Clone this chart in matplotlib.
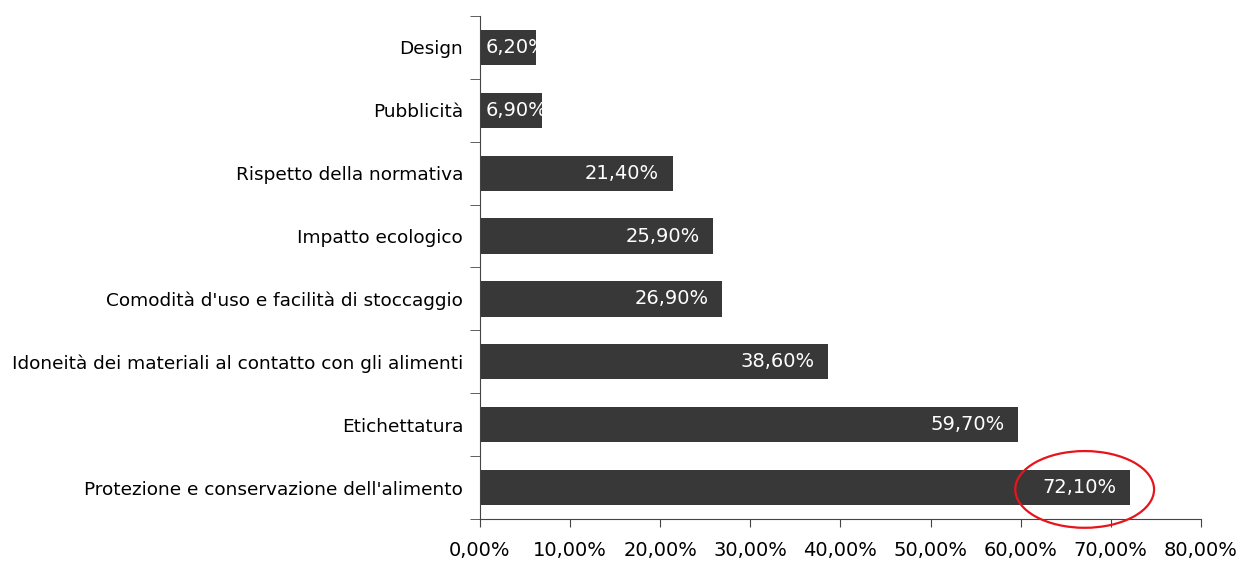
import numpy as np
import matplotlib.pyplot as plt
from matplotlib.patches import Ellipse

plt.rcParams['font.family'] = ['DejaVu Sans']

# top to bottom
categories = ["Design", "Pubblicità", "Rispetto della normativa", "Impatto ecologico",
              "Comodità d'uso e facilità di stoccaggio",
              "Idoneità dei materiali al contatto con gli alimenti",
              "Etichettatura", "Protezione e conservazione dell'alimento"]
values = [6.2, 6.9, 21.4, 25.9, 26.9, 38.6, 59.7, 72.1]
xticks = [0, 10, 20, 30, 40, 50, 60, 70, 80]

fig = plt.figure(figsize=(12.4, 5.61), dpi=100)
ax = fig.add_axes([0.387, 0.0749, 0.5815, 0.8966])

ypos = np.arange(len(categories))[::-1]
ax.barh(ypos, values, height=0.56, color='#383838', zorder=2)

for y, v in zip(ypos, values):
    txt = f"{v:.2f}%".replace('.', ',')
    if v < 10:
        ax.text(0.6, y, txt, color='white', ha='left', va='center', fontsize=14, zorder=3, clip_on=True)
    else:
        ax.text(v - 1.5, y, txt, color='white', ha='right', va='center', fontsize=14, zorder=3)

ax.set_xlim(0, 80)
ax.set_ylim(-0.5, len(categories) - 0.5)
ax.set_xticks(xticks)
ax.set_xticklabels([f"{t:.2f}%".replace('.', ',') for t in xticks], fontsize=14)
ax.set_yticks(ypos)
ax.set_yticklabels(categories, fontsize=13.3)
ax.tick_params(axis='y', which='major', length=0, pad=12)
ax.set_yticks(np.arange(-0.5, len(categories)), minor=True)
ax.tick_params(axis='y', which='minor', length=7, color='#444444')
ax.tick_params(axis='x', length=6, color='#444444', pad=10)

for s in ['top', 'right']:
    ax.spines[s].set_visible(False)
for s in ['left', 'bottom']:
    ax.spines[s].set_color('#444444')

# highlight
ax.add_patch(Ellipse((67.1, -0.03), 15.4, 1.22, fill=False, edgecolor='#e8141c',
                     linewidth=1.6, clip_on=False, zorder=4))

fig.savefig("out.png", dpi=100)
